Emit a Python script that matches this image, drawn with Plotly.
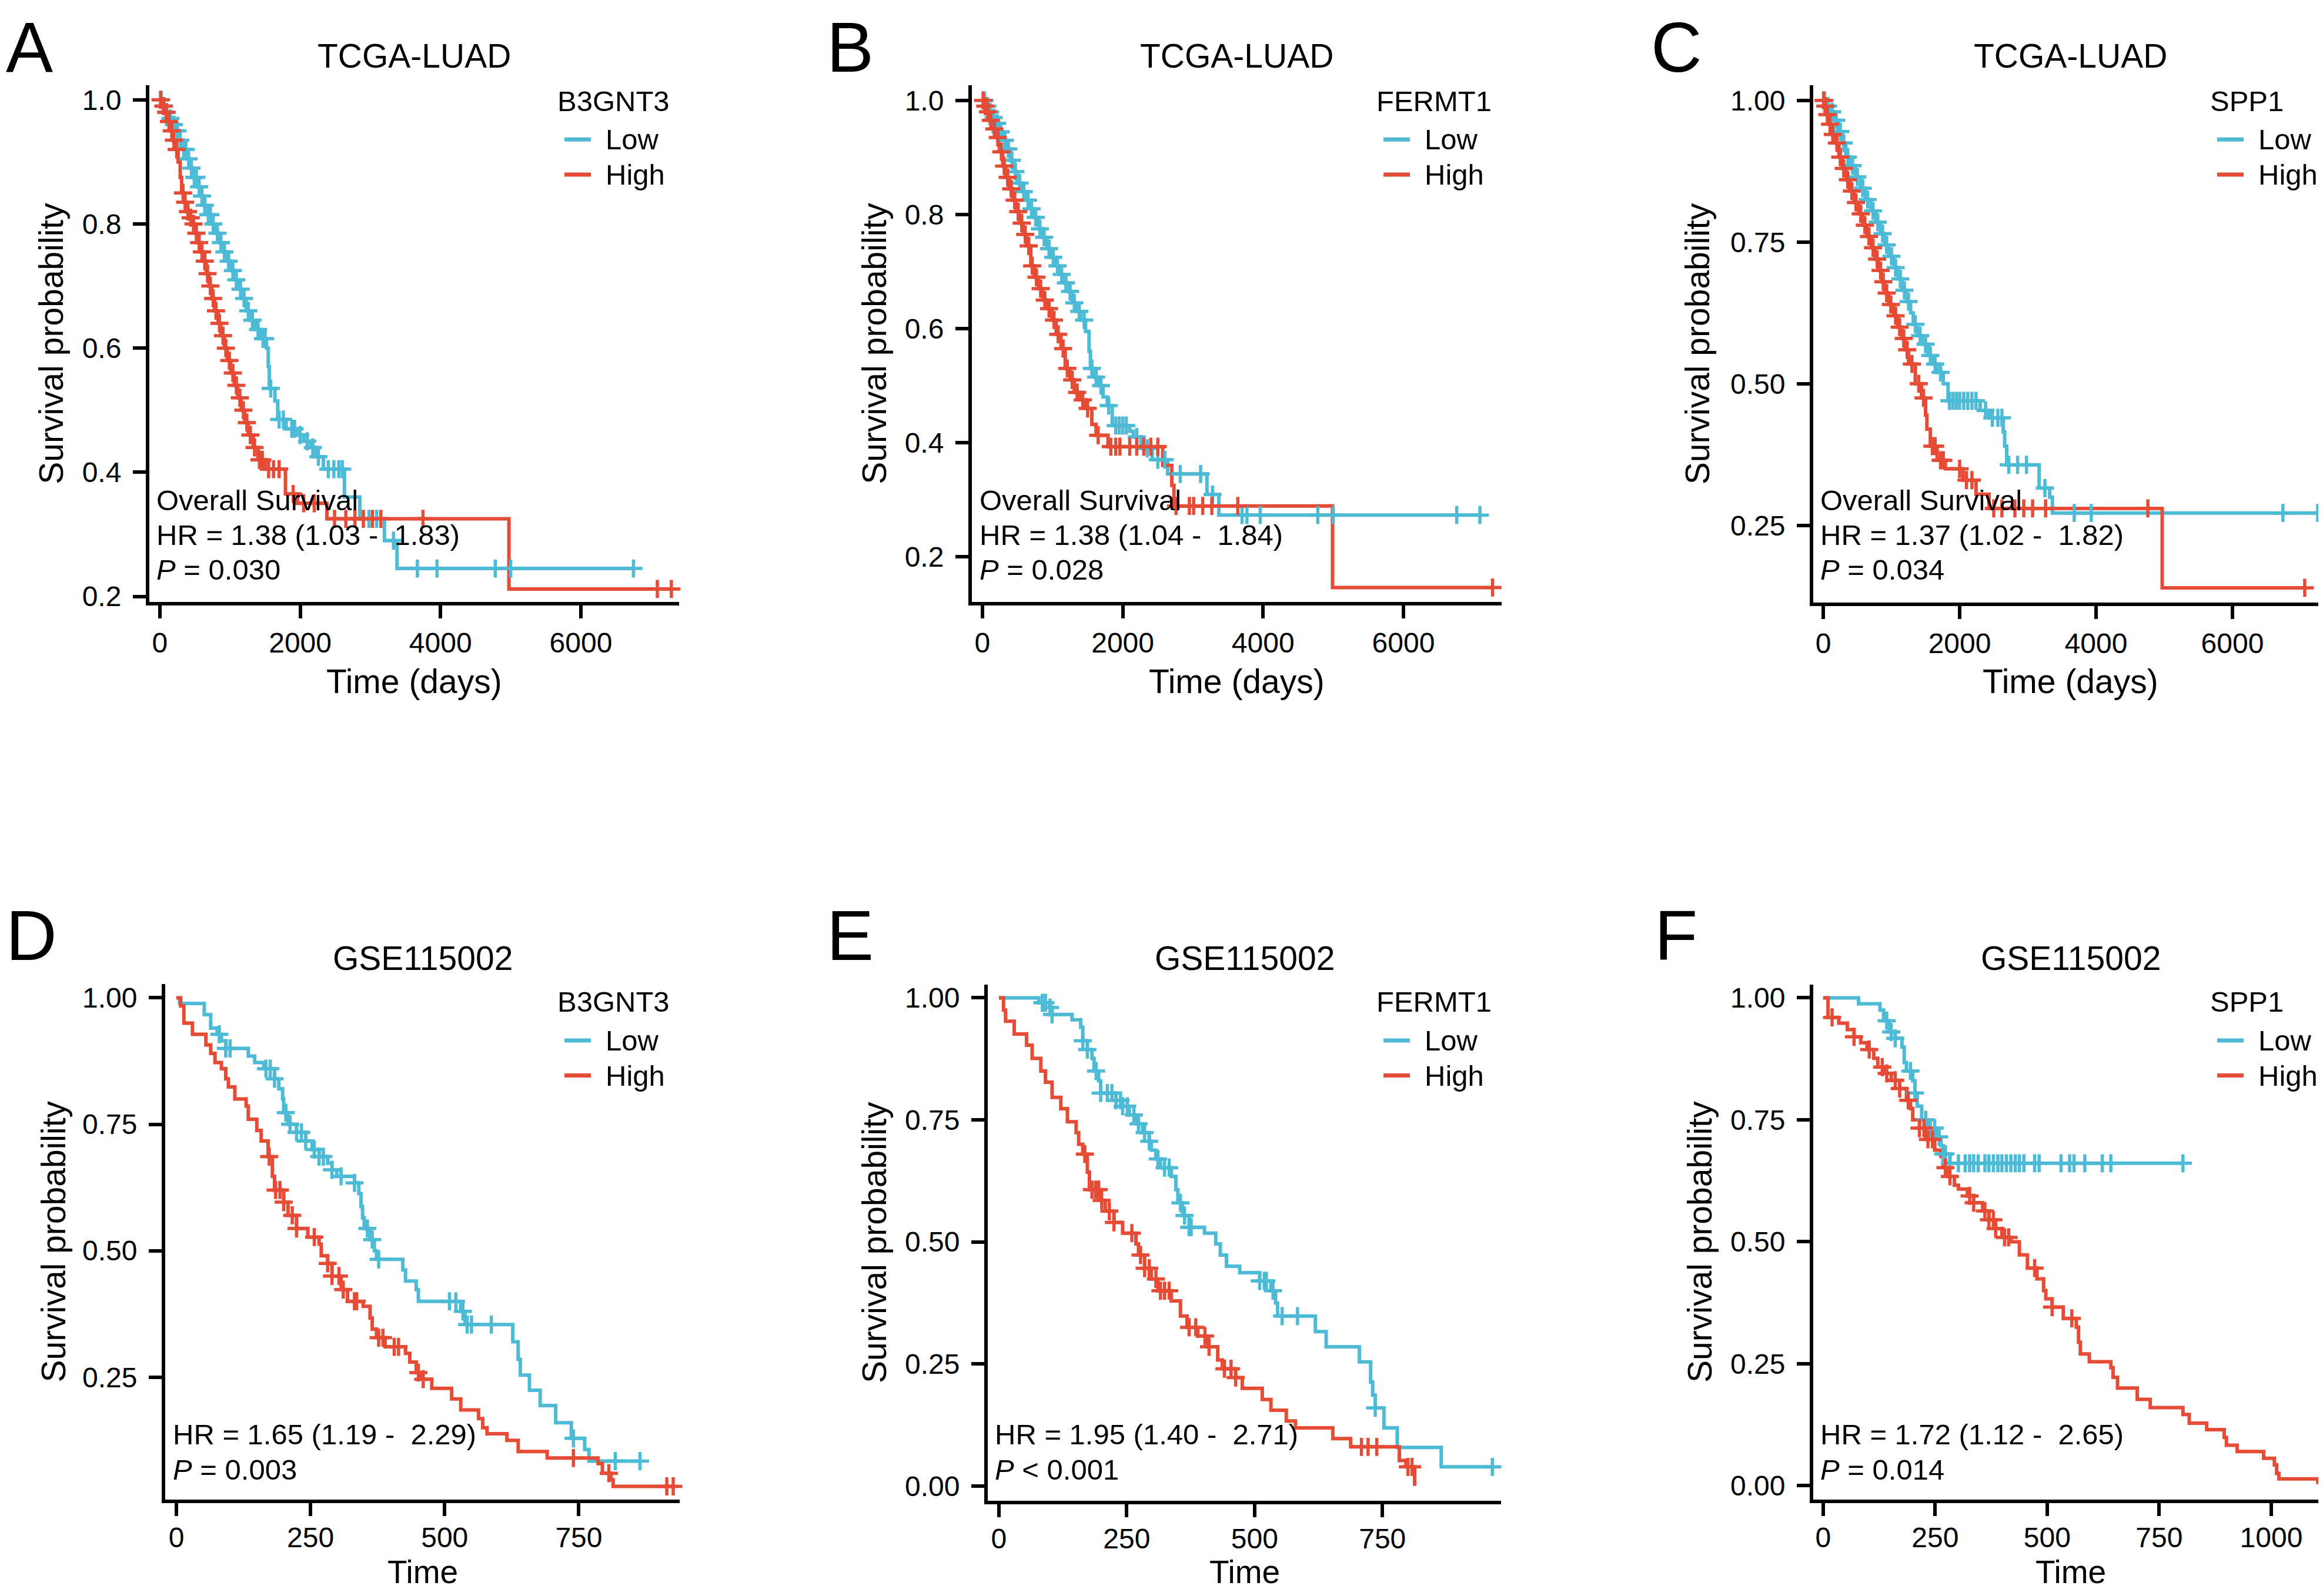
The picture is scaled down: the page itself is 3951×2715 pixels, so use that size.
import numpy as np
import plotly.graph_objects as go

# ---- Kaplan-Meier curves ----
# *_t: event times, *_s: survival after each event, *_cens: censor times

# A  TCGA-LUAD / B3GNT3
a_low_t = [30, 80, 130, 180, 230, 280, 330, 380, 430, 480, 530, 580, 630, 680, 730, 790, 850, 900, 960, 1010,
           1070, 1120, 1180, 1230, 1290, 1360, 1430, 1520, 1545, 1560, 1640, 1680, 1800, 1950, 2050, 2150, 2220,
           2330, 2630, 2850, 3200, 3380]
a_low_s = [0.99, 0.98, 0.97, 0.96, 0.95, 0.935, 0.92, 0.905, 0.89, 0.875, 0.86, 0.845, 0.83, 0.815, 0.80, 0.785,
           0.77, 0.755, 0.74, 0.725, 0.71, 0.695, 0.68, 0.66, 0.645, 0.63, 0.615, 0.60, 0.57, 0.535, 0.515, 0.485,
           0.47, 0.46, 0.45, 0.44, 0.425, 0.405, 0.36, 0.325, 0.29, 0.245]
a_low_cens = [20, 60, 100, 150, 200, 250, 290, 340, 370, 410, 450, 490, 520, 560, 600, 640, 690, 720, 760, 820,
              870, 920, 980, 1040, 1090, 1150, 1200, 1260, 1320, 1400, 1470, 1500, 1580, 1700, 1760, 1880, 1920,
              2000, 2100, 2180, 2260, 2400, 2480, 2550, 2600, 2980, 3090, 3330, 3670, 3950, 4780, 5000, 6750]
a_high_t = [20, 60, 100, 140, 180, 220, 260, 290, 310, 340, 380, 420, 460, 500, 540, 580, 620, 660, 700, 740,
            780, 830, 870, 920, 960, 1010, 1060, 1110, 1160, 1210, 1260, 1330, 1400, 1500, 1790, 1960, 2380, 4975]
a_high_s = [0.99, 0.98, 0.965, 0.95, 0.935, 0.92, 0.90, 0.875, 0.85, 0.835, 0.82, 0.81, 0.80, 0.785, 0.77, 0.755,
            0.74, 0.72, 0.70, 0.68, 0.66, 0.64, 0.62, 0.60, 0.58, 0.56, 0.54, 0.52, 0.50, 0.48, 0.46, 0.44, 0.42,
            0.405, 0.365, 0.35, 0.325, 0.212]
a_high_cens = [10, 50, 90, 130, 170, 200, 240, 330, 360, 400, 440, 480, 520, 560, 600, 640, 680, 720, 760, 800,
               850, 900, 940, 990, 1040, 1090, 1140, 1190, 1240, 1290, 1350, 1420, 1460, 1550, 1620, 1700, 1900,
               2050, 2200, 2490, 2650, 2780, 2900, 3030, 3150, 3750, 7090, 7290]

# B  TCGA-LUAD / FERMT1
b_low_t = [40, 90, 140, 190, 240, 300, 350, 400, 450, 500, 560, 620, 680, 740, 800, 860, 920, 980, 1040, 1100,
           1160, 1220, 1280, 1340, 1400, 1470, 1520, 1540, 1600, 1650, 1720, 1780, 1850, 2100, 2150, 2260, 2420,
           2640, 3200, 3370]
b_low_s = [0.99, 0.98, 0.97, 0.96, 0.945, 0.93, 0.915, 0.895, 0.875, 0.855, 0.84, 0.825, 0.81, 0.795, 0.775,
           0.76, 0.74, 0.725, 0.71, 0.695, 0.68, 0.665, 0.645, 0.63, 0.615, 0.595, 0.56, 0.53, 0.515, 0.50, 0.48,
           0.465, 0.43, 0.42, 0.41, 0.39, 0.37, 0.345, 0.309, 0.273]
b_low_cens = [30, 70, 110, 160, 210, 260, 320, 370, 420, 470, 530, 590, 650, 700, 760, 820, 880, 950, 1010, 1070,
              1130, 1190, 1250, 1310, 1380, 1450, 1560, 1620, 1690, 1800, 1900, 1950, 2000, 2050, 2200, 2350, 2500,
              2600, 2820, 3110, 3280, 3700, 3770, 3960, 4780, 5000, 6760, 7090]
b_high_t = [20, 60, 100, 150, 200, 240, 290, 330, 380, 430, 480, 530, 580, 630, 690, 740, 800, 860, 920, 990,
            1050, 1120, 1180, 1250, 1310, 1390, 1470, 1560, 1620, 1790, 2570, 2700, 2730, 4990]
b_high_s = [0.99, 0.98, 0.965, 0.95, 0.935, 0.91, 0.885, 0.865, 0.845, 0.825, 0.805, 0.785, 0.765, 0.745, 0.71,
            0.69, 0.67, 0.65, 0.635, 0.615, 0.59, 0.565, 0.53, 0.51, 0.488, 0.475, 0.46, 0.432, 0.413, 0.393,
            0.36, 0.325, 0.289, 0.146]
b_high_cens = [10, 40, 80, 120, 170, 220, 270, 310, 360, 410, 460, 510, 560, 610, 660, 710, 770, 830, 890, 950,
               1020, 1080, 1150, 1210, 1280, 1350, 1430, 1500, 1650, 1830, 1900, 1960, 2100, 2200, 2300, 2400,
               2500, 2760, 2950, 3010, 3140, 3270, 3640, 7270]

# C  TCGA-LUAD / SPP1
c_low_t = [40, 100, 160, 220, 280, 330, 400, 470, 550, 620, 700, 770, 840, 900, 960, 1030, 1100, 1160, 1220, 1280,
           1320, 1380, 1450, 1540, 1600, 1670, 1760, 1830, 2300, 2430, 2640, 2660, 2690, 3165, 3320, 3360]
c_low_s = [0.99, 0.98, 0.965, 0.945, 0.925, 0.90, 0.885, 0.865, 0.845, 0.825, 0.805, 0.785, 0.765, 0.745, 0.725,
           0.705, 0.685, 0.665, 0.645, 0.625, 0.605, 0.585, 0.57, 0.55, 0.535, 0.52, 0.50, 0.47, 0.453, 0.44,
           0.415, 0.39, 0.357, 0.316, 0.30, 0.272]
c_low_cens = [20, 70, 130, 190, 250, 300, 360, 430, 500, 580, 650, 730, 800, 870, 930, 1000, 1060, 1130, 1190, 1250,
              1350, 1420, 1500, 1570, 1640, 1720, 1850, 1900, 1950, 2000, 2060, 2120, 2180, 2240, 2380, 2480, 2560,
              2620, 2720, 2850, 2980, 3250, 3680, 3930, 6740, 7250]
c_high_t = [10, 40, 70, 120, 170, 230, 280, 330, 390, 450, 520, 580, 640, 710, 760, 810, 860, 900, 960, 1030,
            1090, 1150, 1200, 1250, 1350, 1440, 1500, 1520, 1570, 1670, 1790, 2050, 2240, 2430, 4970]
c_high_s = [0.99, 0.975, 0.958, 0.94, 0.925, 0.90, 0.88, 0.86, 0.84, 0.82, 0.80, 0.78, 0.76, 0.74, 0.72, 0.70,
            0.68, 0.66, 0.64, 0.62, 0.60, 0.58, 0.56, 0.535, 0.50, 0.475, 0.445, 0.42, 0.39, 0.365, 0.35, 0.33,
            0.305, 0.28, 0.14]
c_high_cens = [5, 30, 60, 100, 140, 200, 250, 300, 360, 420, 480, 550, 610, 670, 730, 790, 840, 880, 930, 990,
               1060, 1120, 1180, 1230, 1300, 1400, 1470, 1600, 1640, 1720, 1760, 2000, 2100, 2180, 2500, 2620,
               2810, 2940, 3070, 3260, 4760, 7060]

# D  GSE115002 / B3GNT3
d_low_t = [6, 52, 64, 76, 84, 92, 134, 146, 163, 183, 191, 198, 200, 208, 224, 241, 253, 266, 282, 290, 299, 332,
           340, 344, 347, 350, 361, 369, 373, 422, 427, 447, 451, 530, 538, 627, 637, 641, 658, 678, 707, 736,
           761, 769]
d_low_s = [0.989, 0.967, 0.94, 0.928, 0.915, 0.90, 0.885, 0.872, 0.86, 0.84, 0.82, 0.80, 0.773, 0.75, 0.734,
           0.717, 0.70, 0.686, 0.673, 0.66, 0.647, 0.634, 0.613, 0.587, 0.565, 0.544, 0.522, 0.50, 0.483, 0.462,
           0.44, 0.423, 0.40, 0.38, 0.354, 0.32, 0.285, 0.254, 0.224, 0.194, 0.16, 0.129, 0.107, 0.084]
d_low_cens = [80, 92, 100, 167, 175, 183, 204, 212, 224, 233, 241, 257, 266, 274, 290, 307, 332, 356, 365, 377,
              509, 521, 534, 542, 550, 587, 740, 818, 864]
d_high_t = [8, 14, 30, 55, 64, 72, 84, 92, 97, 109, 130, 134, 150, 158, 171, 179, 183, 200, 208, 224, 245, 266,
            270, 282, 290, 307, 319, 348, 361, 365, 373, 389, 427, 435, 447, 455, 476, 513, 530, 563, 571, 579,
            616, 637, 691, 786, 794, 810, 814]
d_high_s = [0.984, 0.95, 0.928, 0.907, 0.89, 0.872, 0.86, 0.84, 0.824, 0.80, 0.786, 0.76, 0.738, 0.717, 0.686,
            0.647, 0.62, 0.596, 0.57, 0.544, 0.527, 0.513, 0.49, 0.475, 0.45, 0.423, 0.40, 0.39, 0.367, 0.345,
            0.328, 0.31, 0.297, 0.28, 0.259, 0.246, 0.228, 0.207, 0.185, 0.168, 0.15, 0.138, 0.125, 0.103, 0.09,
            0.079, 0.06, 0.047, 0.034]
d_high_cens = [173, 185, 193, 200, 216, 224, 257, 282, 290, 303, 311, 332, 336, 377, 385, 406, 414, 451, 460, 740,
               806, 914, 926]

# E  GSE115002 / FERMT1
e_low_t = [78, 99, 104, 143, 160, 164, 173, 182, 186, 195, 199, 229, 242, 255, 268, 281, 294, 298, 307, 316, 337,
           346, 350, 359, 372, 402, 424, 433, 445, 471, 510, 532, 541, 545, 619, 640, 705, 727, 731, 736, 753,
           779, 865]
e_low_s = [0.99, 0.98, 0.966, 0.955, 0.94, 0.912, 0.894, 0.876, 0.85, 0.83, 0.805, 0.79, 0.778, 0.76, 0.742,
           0.724, 0.706, 0.688, 0.67, 0.652, 0.634, 0.607, 0.58, 0.554, 0.53, 0.518, 0.496, 0.473, 0.45, 0.437,
           0.42, 0.40, 0.375, 0.348, 0.316, 0.285, 0.254, 0.213, 0.186, 0.16, 0.119, 0.079, 0.039]
e_low_cens = [85, 91, 100, 104, 164, 173, 190, 199, 212, 221, 229, 238, 242, 251, 264, 273, 285, 294, 311, 324,
              333, 355, 363, 372, 376, 510, 519, 523, 536, 554, 584, 736, 965]
e_high_t = [9, 13, 30, 54, 65, 82, 91, 104, 121, 134, 151, 156, 164, 173, 177, 199, 208, 225, 242, 268, 273, 285,
            298, 311, 337, 355, 368, 389, 407, 428, 437, 463, 476, 515, 532, 562, 580, 653, 688, 783, 796, 813]
e_high_s = [0.975, 0.952, 0.926, 0.903, 0.876, 0.85, 0.827, 0.796, 0.773, 0.746, 0.724, 0.70, 0.68, 0.643, 0.607,
            0.585, 0.563, 0.54, 0.518, 0.496, 0.473, 0.446, 0.424, 0.40, 0.379, 0.348, 0.325, 0.307, 0.285, 0.258,
            0.24, 0.222, 0.20, 0.177, 0.155, 0.133, 0.119, 0.097, 0.08, 0.052, 0.039, 0.0]
e_high_cens = [168, 182, 189, 195, 201, 216, 225, 260, 277, 285, 294, 307, 316, 324, 333, 372, 385, 403, 411, 441,
               454, 463, 709, 722, 739, 800, 808]

# F  GSE115002 / SPP1
f_low_t = [79, 127, 135, 147, 161, 176, 181, 186, 200, 205, 210, 220, 234, 254, 263, 268, 283]
f_low_s = [0.988, 0.975, 0.953, 0.93, 0.917, 0.899, 0.867, 0.85, 0.83, 0.805, 0.778, 0.75, 0.733, 0.715, 0.697,
           0.68, 0.661]
f_low_cens = [142, 152, 161, 195, 205, 229, 239, 249, 259, 268, 273, 283, 302, 317, 327, 336, 346, 361, 370, 380,
              390, 399, 409, 419, 429, 438, 448, 472, 482, 531, 550, 560, 584, 623, 642, 803]
f_high_t = [11, 35, 54, 69, 84, 98, 113, 122, 137, 152, 171, 186, 195, 200, 215, 229, 249, 263, 268, 278, 293, 302,
            322, 336, 356, 370, 385, 399, 419, 438, 456, 477, 492, 497, 511, 536, 565, 570, 574, 594, 642, 647,
            657, 701, 730, 803, 817, 856, 895, 900, 924, 983, 1007, 1012, 1017, 1104]
f_high_s = [0.96, 0.948, 0.935, 0.92, 0.908, 0.894, 0.876, 0.858, 0.845, 0.831, 0.814, 0.79, 0.773, 0.75, 0.733,
            0.71, 0.688, 0.675, 0.652, 0.634, 0.616, 0.608, 0.594, 0.58, 0.563, 0.545, 0.527, 0.509, 0.50, 0.473,
            0.446, 0.424, 0.40, 0.383, 0.366, 0.343, 0.325, 0.294, 0.27, 0.254, 0.242, 0.222, 0.20, 0.177, 0.16,
            0.146, 0.128, 0.115, 0.099, 0.083, 0.07, 0.056, 0.043, 0.025, 0.014, 0.003]
f_high_cens = [20, 69, 103, 132, 142, 161, 171, 190, 215, 225, 234, 244, 273, 283, 327, 336, 361, 370, 380, 385,
               405, 414, 472, 511, 555]

# ticks and text
tcga_xticks = [0, 2000, 4000, 6000]
gse_xticks = [0, 250, 500, 750]
gse_xticks_f = [0, 250, 500, 750, 1000]
yt_tenths = [0.2, 0.4, 0.6, 0.8, 1.0]
yt_tenths_txt = ["0.2", "0.4", "0.6", "0.8", "1.0"]
yt_quart = [0.25, 0.50, 0.75, 1.00]
yt_quart_txt = ["0.25", "0.50", "0.75", "1.00"]
yt_quart0 = [0.0, 0.25, 0.50, 0.75, 1.00]
yt_quart0_txt = ["0.00", "0.25", "0.50", "0.75", "1.00"]

NB = "\u00a0"
stats_a = ["Overall Survival", "HR = 1.38 (1.03 -" + NB + " 1.83)", "<i>P</i> = 0.030"]
stats_b = ["Overall Survival", "HR = 1.38 (1.04 -" + NB + " 1.84)", "<i>P</i> = 0.028"]
stats_c = ["Overall Survival", "HR = 1.37 (1.02 -" + NB + " 1.82)", "<i>P</i> = 0.034"]
stats_d = ["HR = 1.65 (1.19 -" + NB + " 2.29)", "<i>P</i> = 0.003"]
stats_e = ["HR = 1.95 (1.40 -" + NB + " 2.71)", "<i>P</i> &lt; 0.001"]
stats_f = ["HR = 1.72 (1.12 -" + NB + " 2.65)", "<i>P</i> = 0.014"]

W, H = 3951, 2715
BLUE = "#4DBBD5"
RED = "#E64B35"
FONT = "Liberation Sans, Arial, Helvetica, sans-serif"

panels = [
    dict(letter="A", title="TCGA-LUAD", gene="B3GNT3", xlab="Time (days)", row=0,
         low=(a_low_t, a_low_s, a_low_cens), high=(a_high_t, a_high_s, a_high_cens),
         xt=tcga_xticks, yt=yt_tenths, ytt=yt_tenths_txt, stats=stats_a,
         box=(246, 1147, 135, 1021), xr=(-150, 7400), yr=(0.1906, 1.0235),
         ylab_x=79, letter_x=0, leg_x=947, stat_x=265),
    dict(letter="B", title="TCGA-LUAD", gene="FERMT1", xlab="Time (days)", row=0,
         low=(b_low_t, b_low_s, b_low_cens), high=(b_high_t, b_high_s, b_high_cens),
         xt=tcga_xticks, yt=yt_tenths, ytt=yt_tenths_txt, stats=stats_b,
         box=(1645, 2546, 135, 1021), xr=(-150, 7400), yr=(0.1202, 1.0266),
         ylab_x=1479, letter_x=1396, leg_x=2340, stat_x=1665),
    dict(letter="C", title="TCGA-LUAD", gene="SPP1", xlab="Time (days)", row=0,
         low=(c_low_t, c_low_s, c_low_cens), high=(c_high_t, c_high_s, c_high_cens),
         xt=tcga_xticks, yt=yt_quart, ytt=yt_quart_txt, stats=stats_c,
         box=(3076, 3951, 135, 1022), xr=(-147, 7397), yr=(0.1135, 1.0268),
         ylab_x=2879, letter_x=2798, leg_x=3758, stat_x=3095),
    dict(letter="D", title="GSE115002", gene="B3GNT3", xlab="Time", row=1,
         low=(d_low_t, d_low_s, d_low_cens), high=(d_high_t, d_high_s, d_high_cens),
         xt=gse_xticks, yt=yt_quart, ytt=yt_quart_txt, stats=stats_d,
         box=(273, 1148, 1675, 2559), xr=(-20.8, 938), yr=(0.0077, 1.0277),
         ylab_x=83, letter_x=0, leg_x=947, stat_x=293),
    dict(letter="E", title="GSE115002", gene="FERMT1", xlab="Time", row=1,
         low=(e_low_t, e_low_s, e_low_cens), high=(e_high_t, e_high_s, e_high_cens),
         xt=gse_xticks, yt=yt_quart0, ytt=yt_quart0_txt, stats=stats_e,
         box=(1672, 2545, 1676, 2561), xr=(-21.8, 982), yr=(-0.0306, 1.0275),
         ylab_x=1479, letter_x=1396, leg_x=2340, stat_x=1691),
    dict(letter="F", title="GSE115002", gene="SPP1", xlab="Time", row=1,
         low=(f_low_t, f_low_s, f_low_cens), high=(f_high_t, f_high_s, f_high_cens),
         xt=gse_xticks_f, yt=yt_quart0, ytt=yt_quart0_txt, stats=stats_f,
         box=(3076, 3951, 1676, 2559), xr=(-22, 1126), yr=(-0.0287, 1.0275),
         ylab_x=2883, letter_x=2804, leg_x=3758, stat_x=3095),
]

rows = [
    dict(title_y=85, xlab_y=1157, xlab_size=57, tick_standoff=0, letter=("top", 0),
         leg_y=(162, 228, 288), stat_last_y=965),
    dict(title_y=1631, xlab_y=2683, xlab_size=55, tick_standoff=-5, letter=("middle", 1592),
         leg_y=(1706, 1772, 1832), stat_last_y=2507),
]


def fx(p):
    return p / W


def fy(p):
    return 1 - p / H


def step_xy(t, s, cens):
    end = max(t[-1], max(cens))
    return [0] + list(t) + [end], [1.0] + list(s) + [s[-1]]


def surv_at(t, s, times):
    idx = np.searchsorted(np.asarray(t), np.asarray(times), side="right")
    return np.concatenate([[1.0], s])[idx]


fig = go.Figure()
annotations = []
shapes = []


def text(x, y, s, size, xanchor="left", yanchor="middle", angle=0, pad=9):
    if xanchor == "left":
        x = max(x - pad, 0)  # annotation box padding
    annotations.append(dict(x=fx(x), y=fy(y), xref="paper", yref="paper", text=s, showarrow=False,
                            xanchor=xanchor, yanchor=yanchor, textangle=angle,
                            font=dict(family=FONT, size=size, color="black")))


for i, p in enumerate(panels):
    sfx = "" if i == 0 else str(i + 1)
    xa, ya = "x" + sfx, "y" + sfx
    x0, x1, y0, y1 = p["box"]
    r = rows[p["row"]]

    # lines first, censor marks on top
    for grp, col in (("low", BLUE), ("high", RED)):
        t, s, c = p[grp]
        xs, ys = step_xy(t, s, c)
        fig.add_trace(go.Scatter(x=xs, y=ys, mode="lines", line=dict(color=col, width=6, shape="hv"),
                                 xaxis=xa, yaxis=ya, showlegend=False, hoverinfo="skip"))
    for grp, col in (("low", BLUE), ("high", RED)):
        t, s, c = p[grp]
        fig.add_trace(go.Scatter(x=c, y=surv_at(t, s, c), mode="markers",
                                 marker=dict(symbol="cross-thin", size=22, color=col,
                                             line=dict(color=col, width=5.5)),
                                 xaxis=xa, yaxis=ya, showlegend=False, hoverinfo="skip", cliponaxis=False))

    axis_common = dict(showgrid=False, zeroline=False, showline=True, linecolor="black", linewidth=6,
                       ticks="outside", ticklen=22, tickwidth=6, tickcolor="black",
                       tickfont=dict(family=FONT, size=48, color="black"))
    fig.layout["xaxis" + sfx] = dict(axis_common, domain=[fx(x0), fx(x1)], range=list(p["xr"]),
                                     tickvals=p["xt"], ticktext=[str(v) for v in p["xt"]],
                                     anchor=ya, ticklabelstandoff=r["tick_standoff"])
    fig.layout["yaxis" + sfx] = dict(axis_common, domain=[fy(y1), fy(y0)], range=list(p["yr"]),
                                     tickvals=p["yt"], ticktext=p["ytt"], anchor=xa,
                                     ticklabelstandoff=10)

    cx = (x0 + x1) / 2
    text(cx, r["title_y"], p["title"], 57, xanchor="center")
    text(cx, r["xlab_y"], p["xlab"], r["xlab_size"], xanchor="center")
    text(p["ylab_x"], (y0 + y1) / 2, "Survival probability", 57, xanchor="center", angle=-90)
    text(p["letter_x"], r["letter"][1], p["letter"], 120, yanchor=r["letter"][0], pad=0)

    # legend drawn by hand inside the panel
    lx = p["leg_x"]
    text(lx, r["leg_y"][0], p["gene"], 49)
    for yy, lab, col in ((r["leg_y"][1], "Low", BLUE), (r["leg_y"][2], "High", RED)):
        shapes.append(dict(type="line", xref="paper", yref="paper", x0=fx(lx + 5), x1=fx(lx + 50),
                           y0=fy(yy), y1=fy(yy), line=dict(color=col, width=7)))
        text(lx + 82, yy, lab, 49)

    n = len(p["stats"])
    for k, line in enumerate(p["stats"]):
        text(p["stat_x"], r["stat_last_y"] - 59.5 * (n - 1 - k), line, 49)

fig.update_layout(width=W, height=H, margin=dict(l=0, r=0, t=0, b=0),
                  paper_bgcolor="white", plot_bgcolor="white",
                  annotations=annotations, shapes=shapes, showlegend=False,
                  font=dict(family=FONT, color="black"))

fig.write_html("out.html")
